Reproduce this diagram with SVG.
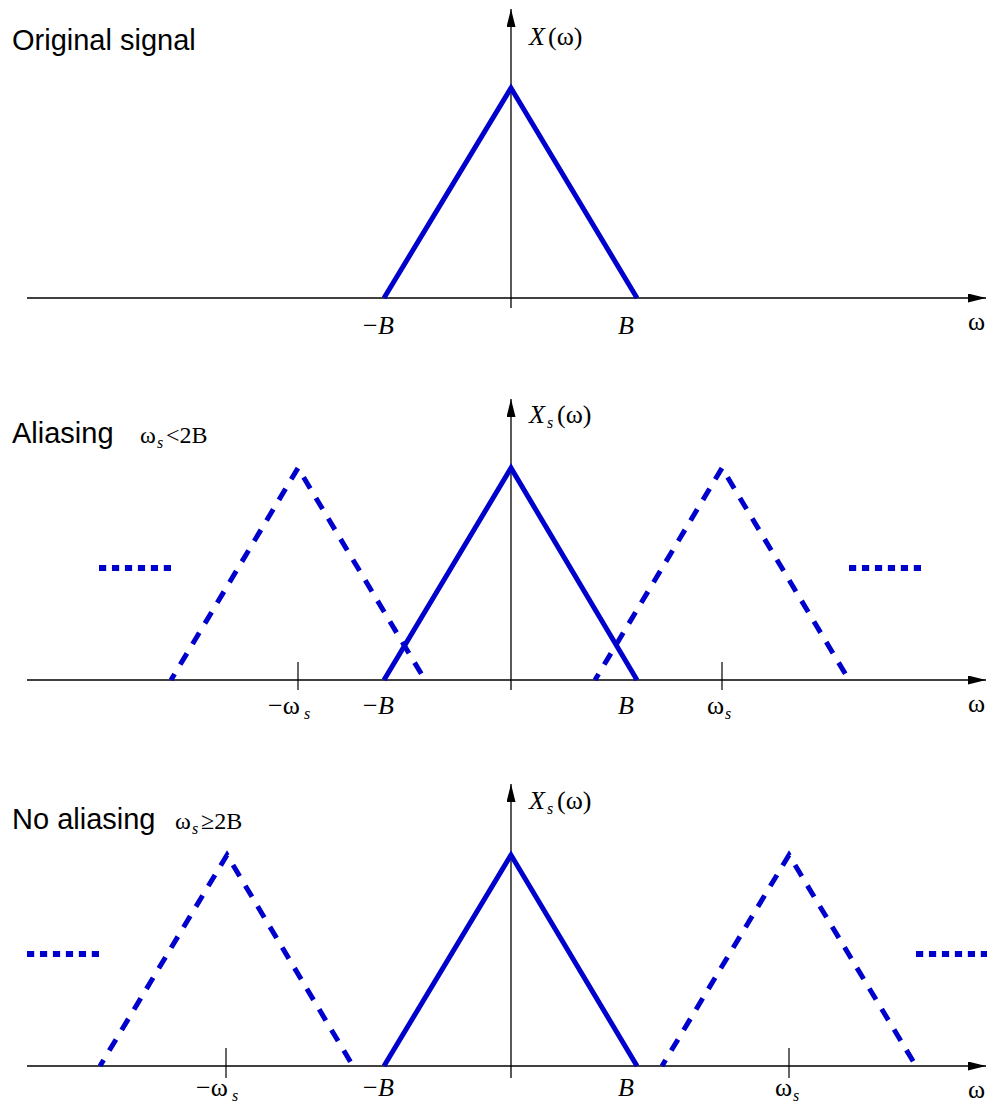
<svg xmlns="http://www.w3.org/2000/svg" width="987" height="1106" viewBox="0 0 987 1106">
<style>
.axis{stroke:#000;stroke-width:1.3;fill:none}
.tick{stroke:#000;stroke-width:1.2}
.solid{stroke:#0000CC;stroke-width:5;fill:none;stroke-linejoin:miter}
.dash{stroke:#0000CC;stroke-width:5;fill:none;stroke-dasharray:13 11;stroke-dashoffset:6}
.dots{stroke:#0000CC;stroke-width:6;fill:none;stroke-dasharray:7.2 5.76}
.title{font-family:"Liberation Sans",Arial,sans-serif;font-size:29px;fill:#000}
.m{font-family:"Liberation Serif","Times New Roman",serif;font-size:26px;fill:#000}
.mi{font-family:"Liberation Serif","Times New Roman",serif;font-size:26px;font-style:italic;fill:#000}
.sub{font-family:"Liberation Serif","Times New Roman",serif;font-size:16px;font-style:italic;fill:#000}
</style>
<defs>
<marker id="ah" viewBox="0 0 18 9" refX="18" refY="4.5" markerWidth="18" markerHeight="9" markerUnits="userSpaceOnUse" orient="auto">
<path d="M0,0 L18,4.5 L0,9 Z" fill="#000"/>
</marker>
</defs>

<g id="panel1">
<text class="title" x="12" y="50">Original signal</text>
<g id="axes1">
<line class="axis" x1="27" y1="298" x2="986" y2="298" marker-end="url(#ah)"/>
<line class="axis" x1="511" y1="308" x2="511" y2="9" marker-end="url(#ah)"/>
</g>
<path id="tri1" class="solid" d="M384,298 L511,88 L637,298"/>
<text class="mi" x="529" y="45">X</text><text class="m" x="548" y="45">(ω)</text>
<text class="m" x="363" y="334">−</text><text class="mi" x="378" y="334">B</text>
<text class="mi" x="618" y="334">B</text>
<text class="m" x="968" y="330">ω</text>
</g>

<g id="panel2">
<text class="title" x="12" y="443">Aliasing</text>
<text class="m" x="140" y="443" style="font-size:24px">ω</text><text class="sub" x="157" y="448">s</text><text class="m" x="166" y="443" style="font-size:24px">&lt;2B</text>
<g id="axes2">
<line class="axis" x1="27" y1="680" x2="986" y2="680" marker-end="url(#ah)"/>
<line class="axis" x1="511" y1="690" x2="511" y2="399" marker-end="url(#ah)"/>
<line class="tick" x1="298" y1="662" x2="298" y2="690"/>
<line class="tick" x1="722" y1="662" x2="722" y2="690"/>
</g>
<path id="tri2l" class="dash" d="M171,680 L298,468 L425,680"/>
<path id="tri2r" class="dash" d="M595,680 L722,468 L849,680"/>
<path id="tri2c" class="solid" d="M384,680 L511,468 L637,680"/>
<line class="dots" x1="99" y1="568" x2="171" y2="568"/>
<line class="dots" x1="849" y1="568" x2="921" y2="568"/>
<text class="mi" x="529" y="423">X</text><text class="sub" x="547" y="428">s</text><text class="m" x="557" y="423">(ω)</text>
<text class="m" x="268" y="714">−ω</text><text class="sub" x="304" y="719">s</text>
<text class="m" x="363" y="714">−</text><text class="mi" x="378" y="714">B</text>
<text class="mi" x="618" y="714">B</text>
<text class="m" x="707" y="714">ω</text><text class="sub" x="725" y="719">s</text>
<text class="m" x="968" y="712">ω</text>
</g>

<g id="panel3">
<text class="title" x="12" y="829">No aliasing</text>
<text class="m" x="175" y="829" style="font-size:24px">ω</text><text class="sub" x="192" y="834">s</text><text class="m" x="201" y="829" style="font-size:24px">≥2B</text>
<g id="axes3">
<line class="axis" x1="27" y1="1066" x2="986" y2="1066" marker-end="url(#ah)"/>
<line class="axis" x1="511" y1="1078" x2="511" y2="784" marker-end="url(#ah)"/>
<line class="tick" x1="226" y1="1048" x2="226" y2="1078"/>
<line class="tick" x1="789" y1="1048" x2="789" y2="1078"/>
</g>
<path id="tri3l" class="dash" d="M100,1066 L227,855 L353,1066"/>
<path id="tri3r" class="dash" d="M662,1066 L789,855 L916,1066"/>
<path id="tri3c" class="solid" d="M384,1066 L511,855 L637,1066"/>
<line class="dots" x1="27" y1="954" x2="99" y2="954"/>
<line class="dots" x1="916" y1="954" x2="988" y2="954"/>
<text class="mi" x="529" y="809">X</text><text class="sub" x="547" y="814">s</text><text class="m" x="557" y="809">(ω)</text>
<text class="m" x="196" y="1096">−ω</text><text class="sub" x="232" y="1101">s</text>
<text class="m" x="363" y="1096">−</text><text class="mi" x="378" y="1096">B</text>
<text class="mi" x="618" y="1096">B</text>
<text class="m" x="775" y="1096">ω</text><text class="sub" x="793" y="1101">s</text>
<text class="m" x="968" y="1098">ω</text>
</g>
</svg>
